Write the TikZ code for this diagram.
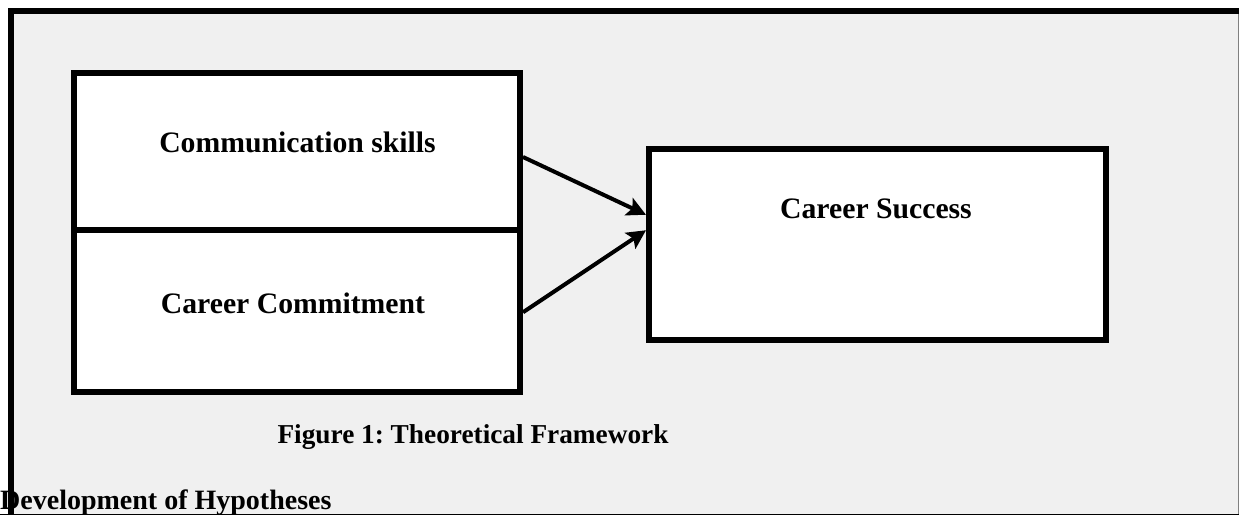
\documentclass[tikz,border=0pt]{standalone}
\usepackage{fontspec}
\setmainfont{Liberation Serif}
\usetikzlibrary{arrows.meta}
\definecolor{panel}{HTML}{F0F0F0}
\frenchspacing
\tikzset{
  box/.style={draw=black, line width=6pt, fill=white, inner sep=0pt, outer sep=3pt},
  lbl/.style={font=\fontsize{27.3}{30}\selectfont\bfseries, anchor=base, inner sep=0pt},
  blbl/.style={lbl, font=\fontsize{29.7}{32}\selectfont\bfseries},
  conn/.style={line width=4pt, -{Stealth[length=19pt,width=19pt,inset=4pt]}}
}
\begin{document}
\begin{tikzpicture}[x=1pt,y=-1pt]
\useasboundingbox (0,0) rectangle (1239,515);
% panel
\fill[panel] (11,11) rectangle (1239,515);
\draw[gray, line width=1.2pt] (1238.4,11) -- (1238.4,515);
% boxes
\node[box, minimum width=446pt, minimum height=157pt] (c1) at (297,151) {};
\node[box, minimum width=446pt, minimum height=162.5pt] (c2) at (297,310.75) {};
\node[box, minimum width=456.5pt, minimum height=191.5pt] (cs) at (877.25,244.25) {};
% labels
\node[blbl] (t1) at (297.5,152) {Communication skills};
\node[blbl] (t2) at (293,313) {Career Commitment};
\node[blbl] (t3) at (876,218) {Career Success};
\node[lbl] (cap) at (473,443) {Figure 1: Theoretical Framework};
\node[lbl, font=\fontsize{28}{30}\selectfont\bfseries, anchor=base west] (dev) at (0,509) {Development of Hypotheses};
% arrows
\draw[conn] ([yshift=-6pt]c1.east) -- ([yshift=29.5pt]cs.west);
\draw[conn] ([yshift=-1.5pt]c2.east) -- ([yshift=14pt]cs.west);
% frame
\draw[line width=6pt, line join=miter] (11,515) -- (11,11) -- (1239,11);
\draw[black, line width=1.2pt] (0,514.2) -- (1239,514.2);
\end{tikzpicture}
\end{document}
